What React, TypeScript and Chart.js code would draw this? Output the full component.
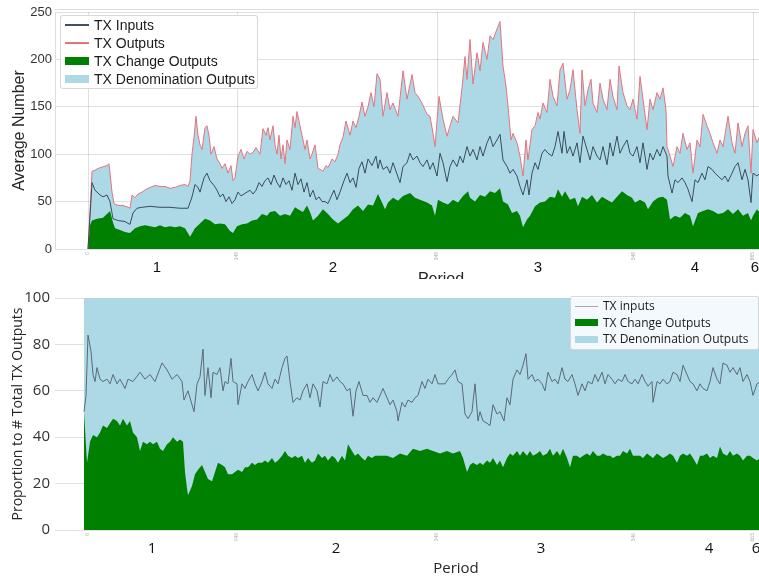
import React, { useEffect, useRef } from 'react';
import { Chart, registerables } from 'chart.js';

Chart.register(...registerables);

// ---------------- DATA ----------------
// x = day index within the observed range, y = value
const xTickDays = [0, 149, 349, 546, 665];
const xTickLabels = ['0', '149', '349', '546', '665'];
const periodNames = ['1', '2', '3', '4', '6'];
const topPeriodDays = [69, 245, 450, 607, 667];
const bottomPeriodDays = [64, 248, 453, 621, 668];

const topLabels = ['TX Inputs', 'TX Outputs', 'TX Change Outputs', 'TX Denomination Outputs'];
const bottomLabels = ['TX inputs', 'TX Change Outputs', 'TX Denomination Outputs'];
const bottomTotal = 100;

const topOutputs: [number, number][] = [
  [0, 0], [2, 40], [4, 82], [7, 83], [10, 85], [13, 86], [16, 87], [19, 88], [21, 90], [24, 60], [26, 48], [30, 46], [34, 46], [38, 45], [42, 43], [44, 57], [47, 54], [50, 58], [54, 60], [58, 63], [62, 65], [67, 67], [72, 66], [77, 66], [82, 64], [87, 65], [92, 67], [97, 68], [100, 66], [102, 72], [104, 100], [106, 118], [108, 140], [110, 120], [112, 110], [114, 105], [117, 128], [119, 130], [121, 120], [123, 100], [126, 108], [129, 95], [132, 90], [134, 85], [137, 90], [140, 80], [143, 88], [145, 72], [147, 75], [150, 98], [153, 105], [156, 95], [159, 103], [162, 100], [165, 102], [168, 107], [172, 100], [175, 127], [178, 120], [180, 128], [182, 115], [185, 130], [187, 110], [189, 100], [191, 120], [193, 95], [195, 110], [197, 90], [199, 115], [202, 105], [205, 140], [207, 128], [209, 145], [212, 130], [214, 120], [217, 105], [219, 115], [222, 95], [224, 100], [227, 110], [230, 85], [232, 84], [235, 82], [238, 88], [240, 86], [242, 90], [244, 95], [247, 92], [250, 100], [252, 110], [255, 118], [258, 135], [262, 120], [265, 135], [268, 128], [271, 140], [274, 155], [277, 140], [280, 150], [283, 165], [286, 150], [289, 185], [292, 179], [295, 140], [299, 165], [302, 147], [305, 154], [310, 140], [315, 188], [319, 158], [324, 184], [327, 165], [330, 161], [334, 154], [339, 142], [342, 140], [345, 122], [347, 108], [351, 161], [355, 137], [359, 119], [362, 130], [365, 140], [370, 133], [374, 170], [377, 203], [379, 179], [382, 221], [385, 174], [389, 207], [392, 188], [395, 218], [399, 200], [402, 225], [405, 221], [409, 232], [412, 240], [415, 193], [418, 172], [420, 151], [423, 115], [425, 122], [429, 112], [432, 98], [435, 77], [438, 115], [440, 94], [444, 126], [447, 130], [450, 144], [452, 137], [455, 154], [459, 144], [462, 179], [465, 161], [469, 151], [472, 189], [475, 196], [479, 158], [482, 168], [485, 189], [489, 147], [492, 122], [494, 189], [497, 151], [500, 168], [503, 179], [505, 154], [509, 144], [512, 175], [515, 158], [519, 147], [522, 179], [525, 161], [529, 147], [531, 193], [535, 165], [539, 151], [542, 147], [545, 158], [549, 137], [552, 182], [555, 158], [559, 126], [562, 158], [565, 147], [569, 165], [572, 158], [575, 170], [578, 147], [579, 108], [582, 98], [585, 87], [589, 108], [592, 101], [595, 122], [599, 105], [602, 112], [605, 80], [609, 115], [612, 108], [615, 142], [619, 130], [622, 122], [625, 112], [629, 101], [632, 115], [635, 108], [640, 140], [644, 112], [647, 101], [650, 133], [654, 108], [657, 122], [660, 130], [663, 80], [665, 126], [669, 112], [672, 120],
];

const topInputs: [number, number][] = [
  [0, 0], [2, 35], [4, 70], [7, 62], [12, 57], [15, 55], [19, 57], [22, 50], [25, 32], [30, 30], [37, 29], [40, 27], [42, 26], [45, 38], [49, 43], [54, 44], [62, 45], [72, 44], [82, 44], [92, 43], [100, 43], [104, 55], [107, 68], [110, 65], [112, 60], [116, 75], [119, 80], [122, 72], [126, 67], [129, 62], [132, 55], [135, 58], [138, 50], [141, 55], [144, 48], [147, 52], [150, 60], [153, 56], [156, 58], [159, 60], [162, 62], [165, 58], [168, 62], [171, 70], [174, 66], [177, 72], [180, 75], [183, 68], [186, 78], [189, 70], [192, 65], [195, 75], [198, 68], [201, 72], [204, 62], [207, 80], [210, 68], [213, 74], [216, 60], [219, 70], [222, 55], [225, 62], [228, 52], [231, 55], [234, 50], [237, 50], [240, 48], [243, 55], [246, 62], [249, 52], [252, 60], [256, 72], [259, 80], [262, 70], [265, 75], [268, 65], [271, 85], [274, 92], [277, 80], [280, 95], [284, 88], [288, 98], [290, 85], [292, 94], [295, 84], [299, 87], [302, 80], [305, 91], [309, 79], [312, 70], [315, 87], [319, 91], [322, 101], [325, 94], [329, 98], [332, 91], [335, 87], [339, 94], [342, 84], [345, 91], [349, 77], [352, 101], [355, 91], [359, 71], [362, 87], [365, 94], [369, 87], [372, 98], [375, 91], [379, 108], [382, 98], [385, 105], [389, 94], [392, 108], [395, 98], [399, 112], [402, 119], [405, 108], [409, 115], [412, 121], [415, 94], [419, 87], [422, 80], [425, 84], [429, 77], [432, 66], [435, 57], [439, 73], [441, 57], [444, 80], [447, 91], [450, 84], [454, 101], [457, 105], [460, 101], [464, 98], [467, 108], [470, 124], [474, 101], [476, 124], [479, 101], [482, 108], [485, 98], [489, 112], [492, 91], [495, 119], [499, 105], [502, 94], [505, 108], [509, 98], [512, 94], [515, 108], [519, 89], [522, 112], [525, 98], [529, 119], [532, 101], [535, 108], [539, 115], [542, 101], [545, 98], [549, 108], [552, 91], [555, 112], [559, 84], [562, 101], [565, 94], [569, 105], [572, 98], [575, 108], [579, 98], [580, 77], [584, 59], [587, 73], [590, 70], [594, 75], [597, 70], [600, 63], [604, 50], [607, 73], [610, 70], [614, 80], [617, 73], [620, 87], [624, 84], [627, 80], [630, 77], [634, 73], [637, 77], [640, 71], [644, 80], [647, 87], [650, 91], [654, 73], [657, 84], [660, 73], [663, 49], [665, 80], [669, 77], [672, 80],
];

const topChange: [number, number][] = [
  [0, 0], [2, 25], [4, 30], [9, 32], [15, 33], [20, 38], [22, 40], [25, 28], [27, 22], [32, 20], [37, 18], [42, 17], [47, 22], [52, 24], [57, 25], [62, 24], [67, 23], [72, 25], [77, 23], [82, 24], [87, 23],
  [92, 24], [97, 22], [102, 13], [107, 22], [112, 27], [117, 32], [122, 30], [127, 26], [132, 27], [137, 26], [142, 19], [145, 17], [149, 24], [154, 26], [159, 27], [164, 30], [169, 31], [174, 37], [179, 35], [182, 39], [187, 40], [192, 35], [197, 37], [202, 35], [207, 44], [210, 42], [215, 39], [219, 46], [222, 39], [225, 30], [230, 35], [235, 42], [240, 37], [245, 31], [250, 27], [255, 31], [260, 35], [265, 42], [270, 46], [275, 40], [280, 47], [285, 46], [290, 58], [294, 49], [297, 42], [300, 49], [305, 54], [310, 51], [315, 56], [322, 59], [327, 54], [332, 52], [339, 49], [344, 46], [347, 35], [350, 52], [355, 49], [360, 47], [365, 52], [370, 49], [375, 56], [380, 61],
  [382, 54], [387, 50], [392, 57], [397, 55], [402, 61], [407, 59], [412, 64], [415, 50], [420, 47], [424, 38], [429, 40], [432, 35], [435, 23], [439, 31], [442, 35], [447, 45], [452, 49], [457, 50], [462, 55], [467, 54], [470, 63], [474, 55], [477, 61], [482, 52], [487, 54], [490, 45], [494, 55], [499, 52], [504, 57], [509, 49], [514, 55], [519, 52], [524, 49], [529, 55], [534, 61], [539, 57], [544, 54], [547, 49], [552, 52], [557, 49], [560, 42], [565, 50], [570, 54], [575, 55], [579, 52], [582, 31], [587, 35], [592, 33], [597, 38], [602, 35], [605, 24], [610, 38], [615, 40], [620, 42], [625, 40], [630, 37], [635, 38], [640, 42], [645, 37], [650, 42], [655, 35], [660, 38], [663, 30], [665, 35], [669, 42], [672, 38],
];

const bottomInputs: [number, number][] = [
  [-4, 51], [-2, 58], [0, 84], [3, 77], [5, 67], [7, 64], [9, 70], [12, 65], [15, 64], [19, 65], [22, 63], [25, 67], [29, 63], [32, 65], [37, 61], [40, 65], [45, 64], [52, 68], [57, 65], [62, 67], [67, 64], [74, 72], [79, 69], [84, 65], [89, 67], [94, 64], [96, 56], [100, 60], [104, 54], [106, 51], [109, 63], [112, 66], [115, 78], [117, 58], [120, 70], [123, 57], [125, 68], [129, 67], [132, 70], [135, 60], [137, 64], [140, 63], [143, 74], [145, 64], [149, 63], [150, 54], [154, 63], [157, 61], [160, 64], [164, 67], [167, 63], [170, 60], [174, 64], [177, 68], [180, 63], [184, 61], [187, 65], [190, 63], [194, 70], [197, 74], [199, 75], [202, 64], [205, 55], [209, 57], [212, 56], [215, 60], [219, 63], [222, 57], [225, 63], [229, 60], [232, 53], [235, 64], [239, 63], [242, 67], [245, 64], [249, 66], [252, 64], [255, 63], [259, 60], [262, 61], [265, 49], [268, 60], [271, 64], [275, 58], [279, 58], [282, 55], [285, 57], [289, 55], [292, 58], [295, 61], [299, 57], [302, 54], [305, 56], [309, 51], [310, 47], [314, 55], [317, 53], [320, 56], [324, 55], [327, 57], [330, 58], [334, 64], [337, 61], [340, 65], [344, 63], [347, 67], [350, 63], [354, 63], [357, 63], [360, 65], [364, 67], [367, 69], [370, 64], [374, 63], [377, 50], [380, 48], [384, 51], [387, 63], [390, 47], [392, 51], [395, 47], [399, 46], [402, 45], [405, 54], [409, 50], [412, 51], [416, 47], [419, 57], [422, 54], [425, 65], [429, 69], [432, 67], [435, 71], [438, 76], [440, 65], [444, 67], [447, 64], [450, 65], [454, 63], [457, 60], [460, 68], [464, 64], [467, 65], [470, 63], [474, 70], [477, 65], [480, 64], [484, 67], [487, 63], [490, 58], [494, 63], [497, 60], [500, 64], [504, 63], [507, 67], [510, 64], [514, 68], [517, 63], [520, 67], [524, 65], [527, 63], [530, 65], [534, 64], [537, 67], [540, 64], [544, 63], [547, 65], [550, 63], [554, 67], [557, 64], [560, 62], [564, 64], [565, 55], [569, 64], [572, 63], [575, 65], [579, 63], [582, 64], [585, 68], [589, 67], [592, 64], [595, 71], [599, 67], [602, 64], [605, 63], [609, 60], [612, 63], [615, 61], [619, 60], [622, 64], [625, 70], [629, 65], [632, 63], [635, 72], [639, 71], [642, 68], [645, 70], [649, 67], [652, 70], [655, 64], [659, 67], [662, 64], [665, 58], [669, 63], [672, 64],
];

const bottomChange: [number, number][] = [
  [-4, 51], [-1, 29], [2, 38], [5, 41], [9, 40], [12, 42], [15, 45], [19, 44], [22, 46], [25, 48], [29, 47], [32, 45], [35, 48], [39, 45], [42, 47], [45, 42], [49, 40], [52, 34], [55, 38], [59, 37], [62, 38], [65, 37], [69, 38], [72, 35], [75, 34], [79, 37], [82, 38], [85, 40], [89, 38], [92, 39], [95, 38], [97, 25], [99, 18], [100, 15], [104, 19], [107, 24], [110, 26], [114, 28], [117, 25], [120, 22], [124, 21], [127, 25], [130, 29], [134, 28], [137, 27], [140, 24], [144, 24], [147, 25], [150, 26], [154, 25], [157, 27], [160, 27], [164, 29], [167, 28], [170, 29], [174, 29], [177, 30], [180, 29], [184, 31], [187, 29], [190, 30], [194, 32], [197, 34], [200, 32], [204, 31], [207, 32], [210, 31], [214, 32], [217, 29], [220, 31], [224, 29], [227, 30], [230, 33], [234, 31], [237, 32], [240, 30], [244, 32], [247, 31], [250, 29], [254, 32], [257, 30], [260, 37], [264, 34], [267, 32], [270, 33], [274, 31], [277, 30], [280, 32], [284, 31], [287, 32], [290, 32], [292, 32], [299, 32], [305, 31], [312, 33], [319, 32], [325, 35], [332, 34], [339, 35], [345, 34], [352, 33], [359, 34], [365, 33], [372, 34], [375, 31], [379, 25], [382, 28], [385, 29], [389, 28], [392, 29], [395, 28], [399, 30], [402, 29], [405, 31], [409, 28], [412, 30], [415, 27], [419, 31], [422, 33], [425, 32], [429, 34], [432, 32], [435, 34], [439, 32], [442, 34], [445, 32], [449, 33], [452, 34], [455, 32], [459, 33], [462, 35], [465, 32], [469, 34], [472, 32], [475, 35], [479, 31], [482, 27], [485, 32], [489, 32], [492, 31], [495, 32], [499, 33], [502, 32], [505, 34], [509, 32], [512, 32], [515, 33], [519, 32], [522, 32], [525, 31], [529, 32], [532, 32], [535, 34], [539, 33], [542, 35], [545, 32], [549, 32], [552, 32], [555, 31], [559, 33], [562, 32], [565, 31], [569, 33], [572, 32], [575, 31], [579, 32], [582, 33], [585, 32], [589, 29], [592, 32], [595, 33], [599, 32], [602, 33], [605, 31], [609, 28], [612, 32], [615, 32], [619, 33], [622, 31], [625, 32], [629, 31], [632, 36], [635, 33], [639, 32], [642, 34], [645, 32], [649, 33], [652, 32], [655, 30], [659, 32], [662, 32], [665, 31], [669, 30], [672, 31],
];

// ---------------- STYLE ----------------
const C = {
  inputs: 'rgba(44,62,76,0.9)',
  outputs: '#e5737c',
  change: '#008000',
  denom: '#add8e6',
  botInputs: '#5a6a77',
  legendLine: '#a9a9a9',
  grid: 'rgba(0,0,0,0.12)',
  text: '#262626',
};
const TOP_FONT = '"Liberation Sans", Arial, sans-serif';
const BOT_FONT = '"Open Sans", "Noto Sans", sans-serif';

const xy = (arr: [number, number][]) => arr.map(([x, y]) => ({ x, y }));

function periodPlugin(days: number[], names: string[], family: string, size: number, offset: number) {
  return {
    id: 'periodLabels',
    afterDraw(chart: any) {
      const { ctx, chartArea, scales } = chart;
      ctx.save();
      ctx.font = `${size}px ${family}`;
      ctx.fillStyle = '#111';
      ctx.textAlign = 'center';
      ctx.textBaseline = 'middle';
      days.forEach((d, i) => {
        ctx.fillText(names[i], scales.x.getPixelForValue(d), chartArea.bottom + offset);
      });
      ctx.restore();
    },
  };
}

const topFramePlugin = {
  id: 'topFrame',
  afterDraw(chart: any) {
    const { ctx, chartArea } = chart;
    ctx.save();
    ctx.strokeStyle = '#dddddd';
    ctx.lineWidth = 1;
    ctx.beginPath();
    ctx.moveTo(chartArea.left, chartArea.top - 2.5);
    ctx.lineTo(chartArea.right, chartArea.top - 2.5);
    ctx.stroke();
    ctx.restore();
  },
};

function xScale(min: number, max: number, family: string, titleSize: number, height: number) {
  return {
    type: 'linear',
    min,
    max,
    z: 1,
    afterBuildTicks: (s: any) => {
      s.ticks = xTickDays.map((v) => ({ value: v }));
    },
    afterFit: (s: any) => {
      s.height = height;
    },
    ticks: {
      autoSkip: false,
      minRotation: 90,
      maxRotation: 90,
      padding: 3,
      color: '#aaa',
      font: { size: 5, family },
      callback: (v: number) => {
        const i = xTickDays.indexOf(v);
        return i >= 0 ? xTickLabels[i] : '';
      },
    },
    grid: { color: C.grid, drawTicks: false },
    border: { display: false },
    title: { display: true, text: 'Period', color: C.text, font: { size: titleSize, family }, padding: 0 },
  };
}

type LegendItem = { label: string; kind: 'line' | 'box'; color: string };

function Legend(props: {
  items: LegendItem[];
  left: number; top: number; width: number; rowH: number;
  family: string; size: number; markerW: number; boxH: number; bg: string; padTop: number;
}) {
  const p = props;
  return (
    <div style={{
      position: 'absolute', left: p.left, top: p.top, width: p.width,
      background: p.bg, border: '1px solid rgba(200,200,200,0.7)', borderRadius: 3,
      paddingTop: p.padTop, paddingBottom: p.padTop, boxSizing: 'border-box', zIndex: 2,
    }}>
      {p.items.map((it) => (
        <div key={it.label} style={{ display: 'flex', alignItems: 'center', height: p.rowH }}>
          <span style={{
            display: 'inline-block', width: p.markerW, marginLeft: 4, marginRight: 5,
            height: it.kind === 'line' ? 1.3 : p.boxH, background: it.color,
          }} />
          <span style={{ fontFamily: p.family, fontSize: p.size, color: '#1a1a1a', whiteSpace: 'nowrap', lineHeight: 1 }}>
            {it.label}
          </span>
        </div>
      ))}
    </div>
  );
}

export default function App() {
  const topRef = useRef<HTMLCanvasElement>(null);
  const botRef = useRef<HTMLCanvasElement>(null);

  useEffect(() => {
    const top = new Chart(topRef.current as HTMLCanvasElement, {
      type: 'line',
      data: {
        datasets: [
          { label: topLabels[0], data: xy(topInputs), borderColor: C.inputs, borderWidth: 1, pointRadius: 0, fill: false, tension: 0 },
          { label: topLabels[1], data: xy(topOutputs), borderColor: C.outputs, borderWidth: 1, pointRadius: 0, fill: false, tension: 0 },
          { label: topLabels[2], data: xy(topChange), borderColor: 'rgba(0,0,0,0)', borderWidth: 0, backgroundColor: C.change, pointRadius: 0, fill: 'origin', tension: 0 },
          { label: topLabels[3], data: xy(topOutputs), borderColor: 'rgba(0,0,0,0)', borderWidth: 0, backgroundColor: C.denom, pointRadius: 0, fill: 'origin', tension: 0 },
        ],
      } as any,
      options: {
        animation: false,
        responsive: false,
        maintainAspectRatio: false,
        layout: { padding: { top: 12, left: 0, right: 0, bottom: 0 } },
        plugins: { legend: { display: false }, tooltip: { enabled: false } },
        scales: {
          x: xScale(-33, 739, TOP_FONT, 16, 40),
          y: {
            min: 0, max: 250, z: 1,
            afterFit: (s: any) => { s.width = 55; },
            ticks: { stepSize: 50, padding: 3, color: '#333', font: { size: 13, family: TOP_FONT } },
            grid: { color: C.grid, drawTicks: false },
            border: { display: true, color: '#dddddd' },
            title: { display: true, text: 'Average Number', color: C.text, font: { size: 16, family: TOP_FONT }, padding: { top: 10, bottom: 0 } },
          },
        },
      } as any,
      plugins: [periodPlugin(topPeriodDays, periodNames, TOP_FONT, 15, 19), topFramePlugin],
    });

    const first = bottomChange[0][0];
    const last = bottomChange[bottomChange.length - 1][0];
    const bot = new Chart(botRef.current as HTMLCanvasElement, {
      type: 'line',
      data: {
        datasets: [
          { label: bottomLabels[0], data: xy(bottomInputs), borderColor: C.botInputs, borderWidth: 1, pointRadius: 0, fill: false, tension: 0 },
          { label: bottomLabels[1], data: xy(bottomChange), borderColor: 'rgba(0,0,0,0)', borderWidth: 0, backgroundColor: C.change, pointRadius: 0, fill: 'origin', tension: 0 },
          { label: bottomLabels[2], data: [{ x: first, y: bottomTotal }, { x: last, y: bottomTotal }], borderColor: 'rgba(0,0,0,0)', borderWidth: 0, backgroundColor: C.denom, pointRadius: 0, fill: 'origin', tension: 0 },
        ],
      } as any,
      options: {
        animation: false,
        responsive: false,
        maintainAspectRatio: false,
        layout: { padding: { top: 17, left: 0, right: 0, bottom: 0 } },
        plugins: { legend: { display: false }, tooltip: { enabled: false } },
        scales: {
          x: xScale(-33, 769, BOT_FONT, 15, 48),
          y: {
            min: 0, max: 100, z: 1,
            afterFit: (s: any) => { s.width = 55; },
            ticks: { stepSize: 20, padding: 5, color: '#333', font: { size: 15, family: BOT_FONT } },
            grid: { color: C.grid, drawTicks: false },
            border: { display: false },
            title: { display: true, text: 'Proportion to # Total TX Outputs', color: C.text, font: { size: 14, family: BOT_FONT }, padding: { top: 10, bottom: 0 } },
          },
        },
      } as any,
      plugins: [periodPlugin(bottomPeriodDays, periodNames, BOT_FONT, 15, 19)],
    });

    return () => {
      top.destroy();
      bot.destroy();
    };
  }, []);

  const topLegend: LegendItem[] = [
    { label: topLabels[0], kind: 'line', color: C.inputs },
    { label: topLabels[1], kind: 'line', color: C.outputs },
    { label: topLabels[2], kind: 'box', color: C.change },
    { label: topLabels[3], kind: 'box', color: C.denom },
  ];
  const botLegend: LegendItem[] = [
    { label: bottomLabels[0], kind: 'line', color: C.legendLine },
    { label: bottomLabels[1], kind: 'box', color: C.change },
    { label: bottomLabels[2], kind: 'box', color: C.denom },
  ];

  return (
    <div style={{ position: 'absolute', left: 0, top: 0, width: 759, height: 576, overflow: 'hidden', background: '#fff' }}>
      <div style={{ position: 'absolute', left: 0, top: 0, width: 759, height: 279, overflow: 'hidden' }}>
        <canvas ref={topRef} width={827} height={289} style={{ width: 827, height: 289, display: 'block' }} />
      </div>
      <div style={{ position: 'absolute', left: 0, top: 281, width: 759, height: 295, overflow: 'hidden' }}>
        <canvas ref={botRef} width={857} height={297} style={{ width: 857, height: 297, display: 'block' }} />
      </div>
      <Legend items={topLegend} left={60} top={15} width={198} rowH={18} family={TOP_FONT} size={14}
        markerW={24} boxH={8} bg="#ffffff" padTop={0} />
      <Legend items={botLegend} left={570} top={296} width={189} rowH={16.5} family={BOT_FONT} size={12}
        markerW={23} boxH={7} bg="rgba(255,255,255,0.85)" padTop={1} />
    </div>
  );
}
